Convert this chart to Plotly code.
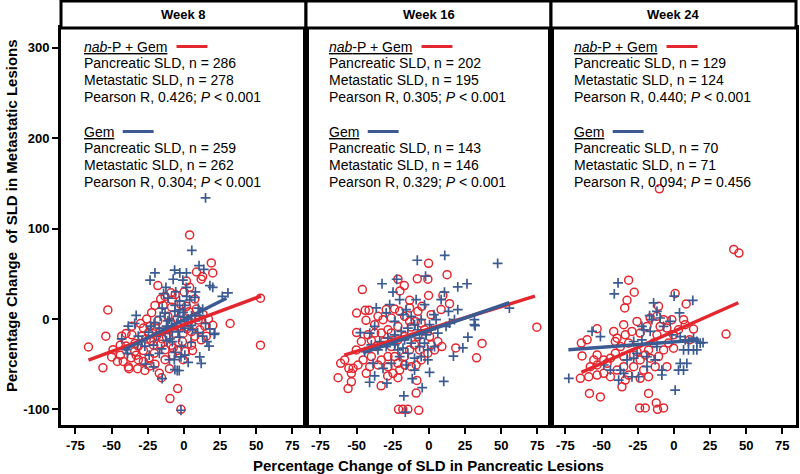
import plotly.graph_objects as go

RED = "#E4262F"
BLUE = "#3B5B92"

weeks = ["Week 8", "Week 16", "Week 24"]
x_ticks = [-75, -50, -25, 0, 25, 50, 75]
x_tick_text = ["-75", "-50", "-25", "0", "25", "50", "75"]
y_ticks = [-100, 0, 100, 200, 300]
y_tick_text = ["-100", "0", "100", "200", "300"]

# (pancreatic % change, metastatic % change)
nab_w8 = [(-66, -31), (-56, -54), (-52.6, 10), (-54, -19), (-49, -34), (-44, -40), (-38, -55), (-32, -55),
          (-15.4, -65), (-9.6, -88), (-4.3, -77), (-2, -100), (4, 93), (19, 62), (20, 51), (13, 47), (12, 44),
          (-18, 37), (32, -5), (20, -7), (53, 23), (53, -29), (-0.5, -45), (-44, -29), (-43, -19), (-40, -16),
          (-36, -17.5), (-38.4, -53), (-36.5, -43), (-31.5, -45), (-28, -47), (-24, -43), (-20.5, -38), (-13, -34),
          (-7.4, -32), (5.3, -29), (-33.8, -27), (-29, -19), (-23.4, -8), (-25.7, 0), (-22.3, 7), (-20, 15),
          (-14.3, 15), (-8.5, 13), (-8, 21), (-9, 29), (0.2, 30), (1.8, 42), (8.7, 52), (7.6, 22), (8.7, 11),
          (13.3, 5), (9.9, -1), (14.5, -8), (7.6, -19), (5.3, -14), (-0.5, -16), (-6.2, -16), (-11.2, -12),
          (-15, -22), (-19, -19), (-22.7, -24), (-21, -29), (-16, -28), (-8, -40), (-4.5, -35), (-1, -25), (2, -11),
          (-19.7, -8), (-24.4, -15), (-28, -10), (-31.5, -30), (-40, -30), (-28, -35), (-34, -36), (-11, 3),
          (-4.8, 0), (-9, -4), (-13, 25), (-1.5, 7), (1.8, 14), (-6, 27), (3.5, 8), (12, -23), (15.5, -19),
          (1, -36), (-13, -45), (-20, -50), (-23.5, -52), (-8.7, -29), (-16.5, -14), (-30, -5), (-26, -22),
          (-18, -2), (-12, -20), (-4, -8), (3, -4), (6, -35), (-10, -55), (-17, -60), (-27, -57), (-33, -40),
          (-46, -47), (-50, -42), (-42, -47), (-36, -8), (-16, 22), (-2, 16), (4, 35), (11, -12), (17, 0)]
gem_w8 = [(15, 134), (5.5, 76), (-20, 51), (-23.4, 43), (-33, 4), (-12.4, 35), (-6.4, 54), (-2.8, 51), (1.8, 51),
          (10.5, 59), (13.8, 55), (18, 37), (20, 35), (26.6, 25), (30.5, 29), (21, -17), (17.4, -30), (11, -42),
          (12, -49), (-6.6, -45), (-4.6, -57), (-3.2, -57), (-15, -66), (-2, -101), (-21, -53), (-26.6, -50),
          (-39, -38), (-43, -22), (-7.4, 44), (-0.7, 43), (-38.4, -8), (-40, -34), (-13, 6.5), (-16.4, 3),
          (-11, -2), (-6.2, 8.5), (-4, 3), (-0.5, 7.4), (3, 0), (5.3, 3.7), (-2.8, 10), (0.7, 15), (4, 21),
          (7.6, 24), (11, 4), (13, 11), (-8.5, -8), (-4, -14), (0.7, -10), (5, -7), (-13, -15), (-20, -4),
          (-24.4, -14.6), (-29, -24), (-21, -29), (-15.4, -33), (-9.7, -22), (-6, -37), (-1.5, -30), (5, -26),
          (9.5, -15), (13, -19), (-14, 28), (-11, 23), (-5.6, 30), (1.7, 35), (-23, -8), (-31.5, -19), (-34, -5),
          (-12, -24), (-19, -19), (-8, -14), (0.7, -40), (21.4, -16), (18, -11), (-6.2, -56), (-10, 0), (-5, -5),
          (0, 2), (2, -3), (-3, -20), (6, -12), (8, -2), (-8, -25), (-12, -8), (-17, -10), (-6, 15), (2, 25),
          (8, 30), (-2, -42), (-10, -45), (3, -48), (15, -5), (16, -25), (-27, -30), (-32, -28), (-17, -38),
          (-24, -40), (10, 12), (-15, 12), (-3, 20)]

nab_w16 = [(-46, 32.6), (-0.2, 61.6), (12.6, 49), (-8, 44.5), (-17, 37), (-0.7, 44), (74.7, -9), (36.8, -27),
           (33, -43), (18.6, -32), (9, -30.5), (-62.8, -65), (-55.9, -77), (-61, -49), (-21, -100), (-14.5, -100),
           (-7, -101), (-18, -100), (-8.8, -82), (-8.3, -68), (-33, -74), (-21.4, -65), (-28.5, -63), (-44, 9.6),
           (-41.4, 9.6), (-50, 6.6), (-43.5, -1.5), (-50, -15), (-21.4, 44), (-20, 31), (-13.3, 20.7),
           (-35.2, 2.9), (-29.5, 10.4), (-23.7, 11.1), (-13.3, 12.2), (-7.6, 8.5), (-4.8, 14), (1.6, 4.8),
           (8.5, 10.4), (14.3, 17), (9.7, 26), (-0.2, 26), (-13.3, -2.7), (-9.4, -2.7), (-21.4, -8.2),
           (-28.3, -11.9), (-32.9, -15.6), (-37.5, -15.6), (-42.1, -17.5), (-46.7, -24.9), (-50.2, -34.2),
           (-45.5, -45.3), (-49, -50.9), (-52.4, -54.6), (-55.4, -54.6), (-58.2, -45.3), (-39.8, -41.6),
           (-36.4, -30.5), (-30.6, -24.9), (-26, -30.5), (-23.7, -41.6), (-32.9, -45.3), (-28.3, -52.8),
           (-21.4, -49), (-16.8, -41.6), (-13.3, -34.2), (-9.9, -28.6), (-7.6, -19.4), (-3, -11.9), (0.5, -19.4),
           (1.6, -28.6), (3.9, -34.2), (-5.3, -45.3), (-8.8, -50.9), (-12.2, -52.8), (-16.8, -50.9), (6.2, -24.9),
           (-21.4, -23), (-16.8, -19.4), (-26, -15.6), (-35.2, -50.9), (-40.9, -52.8), (-43.3, -60.1),
           (-53.6, -60.1), (-53.6, -69.5), (-12.2, -8.9), (-5.3, -4.5), (-16.8, 2.9), (-20.2, 8.5), (-26, 1.1),
           (-39.8, -23.8), (-24.8, -60.1), (-20.2, -56.5), (-28.3, -41.6), (-0.7, -37.9), (-6.4, -34.2),
           (-31.7, -0.8), (-37.5, -6.3)]
gem_w16 = [(11, 70.5), (-8, 65), (47.6, 61.6), (26.4, 39), (20, 35.6), (10.8, 29.7), (-32.4, 39), (-24.8, 29.7),
           (-22.3, 44), (-2.3, 47.5), (55.7, 12), (32, -7.5), (27, -20), (23.5, -32), (17, -41), (0.5, -59),
           (10.3, -69), (-4.6, -76), (-17.3, -85), (-16.3, -103), (-41, -70), (-37.5, -63), (-29, -71),
           (-11.5, -66), (-47.4, -15), (-36.4, 12.2), (-27.1, 15.9), (-20.2, 21.5), (-15.7, 10.4), (-8.8, 21.5),
           (-3, 15.9), (3.5, 4.8), (5, -0.8), (0.5, -6.3), (-5.3, -0.8), (-9.9, -6.3), (-14.5, -10), (-19.1, -13.8),
           (-23.7, -17.5), (-28.3, -21.2), (-34, -24.9), (-39.8, -28.6), (-44.4, -36), (-35.2, -34.2),
           (-29.5, -30.5), (-23.7, -28.6), (-17.9, -32.3), (-12.2, -26.7), (-6.4, -21.2), (-1.9, -17.5),
           (1.6, -11.9), (6.2, -15.6), (11.9, -8.2), (14.3, -4.5), (17.7, -0.8), (20, 10.4), (13.6, 8.5),
           (8.5, 21.5), (-6.4, -30.5), (-0.7, -34.2), (3.9, -30.5), (-14.5, -37.9), (-20.2, -41.6), (-9.9, -43.4),
           (-5.3, -41.6), (-0.7, -45.3), (-15.7, -50.9), (-9.9, -56.5), (-26, -49), (-31.7, -54.6), (-38.6, -49),
           (-29.5, 6.7), (-17.9, 4.8), (-12.2, 2.9), (-7.6, -11.9), (-3, -26.7), (-40.9, -15.6), (-37.5, -8.2),
           (-23.7, -2.7), (31.5, -0.8), (31.5, -6.3), (-21.4, -34.2), (-16.8, -23)]

nab_w24 = [(-10, 144), (41.4, 77), (45, 73), (-53.1, -10.8), (-60, -23.1), (-64, -26.7), (-63.5, -40.9),
           (-64.7, -65.7), (-58.4, -82.4), (-50.8, -86.2), (-23.7, -98.4), (-19.8, -98.4), (-12.2, -92.9),
           (-11.3, -99.9), (-7.1, -98.4), (-17.5, -82.4), (-31.3, 43), (-27.4, 29.6), (-32.4, 20.7), (-34, 12.2),
           (0.9, 28.2), (8.5, 16.7), (36.1, -16.7), (13.6, -11.1), (10.8, -23.1), (-41.6, -13.8), (-39.3, -21.2),
           (-34.7, -6.3), (-33.6, -17.5), (-29, -13.8), (-25.5, -2.7), (-31.3, -26.7), (-37, -30.5),
           (-40.5, -37.9), (-43.9, -43.4), (-46.2, -49), (-53.1, -39.8), (-55.4, -45.3), (-57.8, -52.8),
           (-58.9, -63.9), (-53.1, -62), (-48.5, -60.1), (-43.9, -63.9), (-39.3, -56.5), (-34.7, -52.8),
           (-31.3, -62), (-27.8, -52.8), (-23.3, -45.3), (-19.8, -39.8), (-16.4, -43.4), (-17.5, -34.2),
           (-14, -26.7), (-11.7, -17.5), (-9.5, -8.2), (-7.1, -0.8), (-4.8, -10), (-1.4, -0.8), (-0.2, -17.5),
           (3.2, -11.9), (-3.7, -26.7), (-7.1, -34.2), (-10.6, -41.6), (-12.9, -52.8), (-23.3, -65.7),
           (-17.5, -63.9), (-33.6, -67.6), (-35.9, -75), (-4.8, -52.8), (-0.2, -32.3), (-53.1, -50.9),
           (-48.5, -45.3), (-40.5, -24.9), (-23.3, -15.6), (-18.6, -8.2), (-16.4, 1.1), (-11.7, 2.9), (-10.6, 14),
           (-34.7, -41.6), (-27.8, -39.8), (-20.9, -56.5), (6.7, -0.8), (7.8, -6.3), (-25.5, -36.1)]
gem_w24 = [(-38.6, 40), (-41.2, 27.8), (0.2, 25.2), (13.1, 20.7), (-14, 17.8), (-11.7, 8.5), (-16.8, 3.7),
           (-15.2, -0.8), (-9.5, 1.1), (-7.1, -8.2), (-2.6, -2.7), (3.9, 6.7), (-1.4, -17.5), (4.4, -19.4),
           (7.8, -23.1), (10.1, -24.9), (15.9, -24.9), (18.2, -26.7), (6.7, -34.2), (10.1, -34.2), (13.6, -34.2),
           (15.9, -34.2), (9, -49), (4.4, -49), (6.7, -56.5), (3.2, -56.5), (-8.3, -56.5), (-8.3, -62),
           (-12.9, -45.3), (-18.6, -41.6), (-22.1, -23.1), (-27.8, -24.9), (-25.5, -37.9), (-27.8, -43.4),
           (-32.4, -45.3), (-34.7, -60.1), (-24.4, -63.9), (-29, -63.9), (-38.2, -67.6), (-37, -56.5),
           (-43.9, -56.5), (-48.5, -50.9), (-56.6, -13.8), (-50.8, -19.4), (-72.7, -65.7), (0.9, -78.7),
           (-20.9, -11.9), (-22.1, -8.2), (-16.4, -13.8), (-11.7, -30.5), (-18.6, -52.8), (13.6, -21.2),
           (20.2, -26.1)]

nab_points = [nab_w8, nab_w16, nab_w24]
gem_points = [gem_w8, gem_w16, gem_w24]

# regression lines as drawn (end points)
nab_fit_x = [[-66, 53.4], [-58.5, 73.4], [-64, 44.6]]
nab_fit_y = [[-45.5, 25.4], [-40, 25.3], [-59, 18]]
gem_fit_x = [[-41.5, 29.5], [-45.5, 55.7], [-73, 17.5]]
gem_fit_y = [[-34, 23], [-37.5, 18], [-34, -23.2]]

nab_n_panc = [286, 202, 129]
nab_n_met = [278, 195, 124]
nab_r = ["0.426", "0.305", "0.440"]
nab_p = ["< 0.001", "< 0.001", "< 0.001"]
gem_n_panc = [259, 143, 70]
gem_n_met = [262, 146, 71]
gem_r = ["0.304", "0.329", "0.094"]
gem_p = ["< 0.001", "< 0.001", "= 0.456"]

FONT = "Liberation Sans, Arial, Helvetica, sans-serif"
TOP, BOTTOM = 28, 425          # plot area in pixels
H = BOTTOM - TOP


def py(p):
    # pixel row -> paper y
    return (BOTTOM - p) / H


fig = go.Figure()
for i in range(3):
    xa = "x" if i == 0 else f"x{i + 1}"
    ya = "y" if i == 0 else f"y{i + 1}"
    fig.add_trace(go.Scatter(
        x=[p[0] for p in nab_points[i]], y=[p[1] for p in nab_points[i]],
        xaxis=xa, yaxis=ya, mode="markers", hoverinfo="skip",
        marker=dict(symbol="circle-open", size=8, color=RED, line=dict(color=RED, width=1.5))))
    fig.add_trace(go.Scatter(
        x=[p[0] for p in gem_points[i]], y=[p[1] for p in gem_points[i]],
        xaxis=xa, yaxis=ya, mode="markers", hoverinfo="skip",
        marker=dict(symbol="cross-thin-open", size=7, color=BLUE, line=dict(color=BLUE, width=1.7))))
    fig.add_trace(go.Scatter(x=nab_fit_x[i], y=nab_fit_y[i], xaxis=xa, yaxis=ya, mode="lines",
                             line=dict(color=RED, width=3.5), hoverinfo="skip"))
    fig.add_trace(go.Scatter(x=gem_fit_x[i], y=gem_fit_y[i], xaxis=xa, yaxis=ya, mode="lines",
                             line=dict(color=BLUE, width=3.5), hoverinfo="skip"))

tick_font = dict(family=FONT, size=13, color="black", weight="bold")
layout = dict(
    width=800, height=474,
    margin=dict(l=61, r=1, t=TOP, b=474 - BOTTOM),
    paper_bgcolor="white", plot_bgcolor="white",
    showlegend=False,
    font=dict(family=FONT, color="black"),
)
shapes = []
annotations = []
for i in range(3):
    xk = "xaxis" if i == 0 else f"xaxis{i + 1}"
    yk = "yaxis" if i == 0 else f"yaxis{i + 1}"
    ya = "y" if i == 0 else f"y{i + 1}"
    xa = "x" if i == 0 else f"x{i + 1}"
    layout[xk] = dict(domain=[i / 3, (i + 1) / 3], range=[-85, 84.5], anchor=ya,
                      tickvals=x_ticks, ticktext=x_tick_text, ticks="outside", ticklen=6, tickwidth=2,
                      tickcolor="black", showline=True, linewidth=3, linecolor="black", mirror=True,
                      showgrid=False, zeroline=False, tickfont=tick_font, fixedrange=True)
    ydict = dict(domain=[0, 1], range=[-117.3, 322], anchor=xa, showline=True, linewidth=3,
                 linecolor="black", mirror=True, showgrid=False, zeroline=False, fixedrange=True)
    if i == 0:
        ydict.update(tickvals=y_ticks, ticktext=y_tick_text, ticks="outside", ticklen=6, tickwidth=2,
                     tickcolor="black", tickfont=tick_font)
    else:
        ydict.update(matches="y", showticklabels=False, ticks="")
    layout[yk] = ydict

    # header box with week label
    shapes.append(dict(type="rect", xref="paper", yref="paper", x0=i / 3, x1=(i + 1) / 3,
                       y0=1, y1=py(1), line=dict(color="black", width=3), fillcolor="white"))
    annotations.append(dict(text=f"<b>{weeks[i]}</b>", xref="paper", yref="paper",
                            x=(i + 0.5) / 3, y=py(14.5), xanchor="center", yanchor="middle",
                            showarrow=False, font=dict(family=FONT, size=13, color="black")))

    # statistics block
    dom = f"{xa} domain"
    lines = [
        (46.7, "<u><i>nab</i>-P + Gem</u>"),
        (63.3, f"Pancreatic SLD, n = {nab_n_panc[i]}"),
        (80.0, f"Metastatic SLD, n = {nab_n_met[i]}"),
        (96.7, f"Pearson R, {nab_r[i]}; <i>P</i> {nab_p[i]}"),
        (131.7, "<u>Gem</u>"),
        (148.3, f"Pancreatic SLD, n = {gem_n_panc[i]}"),
        (165.0, f"Metastatic SLD, n = {gem_n_met[i]}"),
        (181.7, f"Pearson R, {gem_r[i]}; <i>P</i> {gem_p[i]}"),
    ]
    for row, txt in lines:
        annotations.append(dict(text=txt, xref=dom, yref="paper", x=21 / 246, y=py(row),
                                xanchor="left", yanchor="middle", showarrow=False,
                                font=dict(family=FONT, size=14, color="black")))
    shapes.append(dict(type="line", xref=dom, yref="paper", x0=116 / 246, x1=147 / 246,
                       y0=py(46.5), y1=py(46.5), line=dict(color=RED, width=3)))
    shapes.append(dict(type="line", xref=dom, yref="paper", x0=62 / 246, x1=93 / 246,
                       y0=py(131.5), y1=py(131.5), line=dict(color=BLUE, width=3)))

annotations.append(dict(text="<b>Percentage Change of SLD in Pancreatic Lesions</b>", xref="paper",
                        yref="paper", x=0.5, y=py(465), xanchor="center", yanchor="middle",
                        showarrow=False, font=dict(family=FONT, size=15, color="black")))
annotations.append(dict(text="<b>Percentage Change\u00a0 of SLD in Metastatic Lesions</b>", xref="paper",
                        yref="paper", x=0, xshift=-49, y=py(216), xanchor="center", yanchor="middle",
                        textangle=-90, showarrow=False, font=dict(family=FONT, size=15, color="black")))

layout["shapes"] = shapes
layout["annotations"] = annotations
fig.update_layout(**layout)
# page body has a default 8px margin; drop it so the figure sits at the window origin
fig.write_html("out.html", config={"displayModeBar": False},
               post_script="document.body.style.margin='0';")
